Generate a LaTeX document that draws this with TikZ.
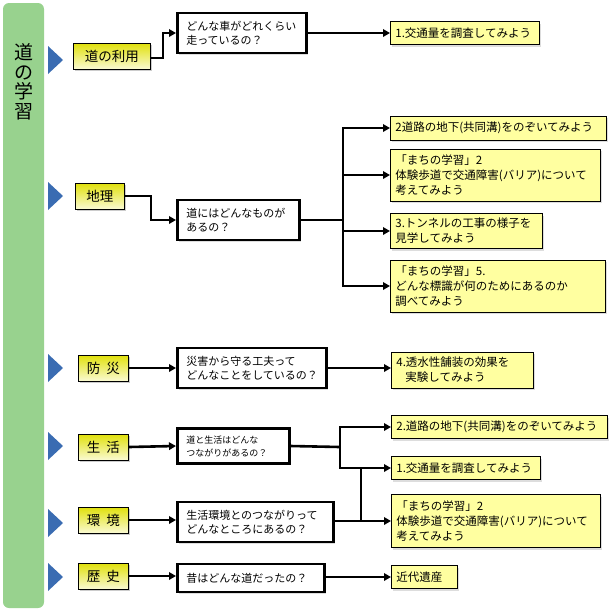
\documentclass[tikz,border=0pt]{standalone}
\usepackage{fontspec}
\setmainfont{Noto Sans CJK JP}
\usetikzlibrary{arrows.meta,shadows,calc}
\definecolor{bargreen}{RGB}{152,210,142}
\definecolor{triblue}{RGB}{58,108,178}
\definecolor{catyellow}{RGB}{224,224,10}
\definecolor{catpale}{RGB}{250,250,210}
\definecolor{resyellow}{RGB}{255,255,160}
\definecolor{shadegray}{RGB}{170,170,170}

\begin{document}
\begin{tikzpicture}[x=1pt, y=-1pt,
  cat/.style={draw, line width=0.9pt, top color=catyellow, bottom color=catpale,
              anchor=west, inner sep=0pt, minimum height=26pt,
              font=\fontsize{13.5}{14}\selectfont,
              drop shadow={shadow xshift=2pt, shadow yshift=-2pt, fill=shadegray, opacity=.6}},
  quest/.style={draw, line width=2.5pt, fill=white, anchor=west, align=left,
                inner xsep=9pt, inner ysep=2pt,
                font=\fontsize{11}{14}\selectfont,
                drop shadow={shadow xshift=1.5pt, shadow yshift=-1.5pt, fill=shadegray, opacity=.4}},
  result/.style={draw, line width=0.8pt, fill=resyellow, anchor=west, align=left,
                 inner xsep=5pt, inner ysep=2pt,
                 font=\fontsize{11.5}{15}\selectfont,
                 drop shadow={shadow xshift=2pt, shadow yshift=-2pt, fill=shadegray, opacity=.4}},
  conn/.style={line width=2.6pt, -{Triangle[length=7pt,width=7.5pt]}},
  bus/.style={line width=2.6pt}]

  \useasboundingbox (0,0) rectangle (615,614);

  % side bar with title
  \fill[bargreen, rounded corners=6pt] (3,3) rectangle (44,608);
  \node[font=\fontsize{19}{19.5}\selectfont, align=center, inner sep=0pt]
    (title) at (24,82) {道\\の\\学\\習};

  % pointers
  \foreach \y in {60,196,368,446,523,577}
    \fill[triblue] (48,\y-14) -- (63,\y) -- (48,\y+14) -- cycle;

  % themes
  \node[cat, minimum width=77pt] (c1) at (73,56)  {道の利用};
  \node[cat, minimum width=49pt] (c2) at (75,196) {地理};
  \node[cat, minimum width=50pt] (c3) at (78,368) {防\hspace{0.45em}災};
  \node[cat, minimum width=50pt] (c4) at (78,447) {生\hspace{0.45em}活};
  \node[cat, minimum width=50pt] (c5) at (78,520) {環\hspace{0.45em}境};
  \node[cat, minimum width=50pt] (c6) at (78,576) {歴\hspace{0.45em}史};

  % questions
  \node[quest, text width=111pt, minimum height=40pt] (q1) at (176,33)
    {どんな車がどれくらい\\走っているの？};
  \node[quest, text width=104pt, minimum height=40pt] (q2) at (176,220)
    {道にはどんなものが\\あるの？};
  \node[quest, text width=131pt, minimum height=40pt] (q3) at (176,368)
    {災害から守る工夫って\\どんなことをしているの？};
  \node[quest, text width=94pt, minimum height=35pt,
        font=\fontsize{9}{13}\selectfont] (q4) at (176,446)
    {道と生活はどんな\\つながりがあるの？};
  \node[quest, text width=138pt, minimum height=40pt] (q5) at (176,522)
    {生活環境とのつながりって\\どんなところにあるの？};
  \node[quest, text width=129pt, minimum height=28pt] (q6) at (176,578)
    {昔はどんな道だったの？};

  % activities
  \node[result, text width=139pt, minimum height=23pt] (r1) at (390,33)
    {1.交通量を調査してみよう};
  \node[result, text width=206pt, minimum height=24pt] (r2) at (390,128)
    {2道路の地下(共同溝)をのぞいてみよう};
  \node[result, text width=200pt, minimum height=52pt] (r3) at (390,175)
    {「まちの学習」2\\体験歩道で交通障害(バリア)について\\考えてみよう};
  \node[result, text width=142pt, minimum height=35pt] (r4) at (390,231)
    {3.トンネルの工事の様子を\\見学してみよう};
  \node[result, text width=205pt, minimum height=52pt] (r5) at (390,286)
    {「まちの学習」5.\\どんな標識が何のためにあるのか\\調べてみよう};
  \node[result, text width=132pt, minimum height=36pt] (r6) at (391,370)
    {4.透水性舗装の効果を\\\hspace{9pt}実験してみよう};
  \node[result, text width=206pt, minimum height=23pt] (r7) at (391,427)
    {2.道路の地下(共同溝)をのぞいてみよう};
  \node[result, text width=139pt, minimum height=23pt] (r8) at (391,468)
    {1.交通量を調査してみよう};
  \node[result, text width=199pt, minimum height=53pt] (r9) at (391,521)
    {「まちの学習」2\\体験歩道で交通障害(バリア)について\\考えてみよう};
  \node[result, text width=56pt, minimum height=23pt] (r10) at (391,577)
    {近代遺産};

  % connectors
  \draw[conn] ($(c1.east)+(0,2)$) -- ++(12,0) |- (q1.west);
  \draw[conn] (q1.east) -- (r1.west);

  \draw[conn] (c2.east) -- ++(26,0) |- (q2.west);
  \coordinate (j2) at (343,220);
  \draw[bus] (q2.east) -- (j2);
  \draw[bus] (343,128) -- (343,286);
  \foreach \r in {r2,r3,r4,r5}
    \draw[conn] (j2) |- (\r.west);

  \draw[conn] (c3.east) -- (q3.west);
  \draw[conn] (q3.east) -- (r6.west |- q3.east);

  \draw[conn] (c4.east) -- (q4.west);
  \coordinate (j4) at (340,447);
  \draw[bus] (q4.east) -- (j4);
  \draw[conn] (j4) |- (r7.west);
  \draw[conn] (j4) |- (r8.west);

  \draw[conn] (c5.east) -- (q5.west |- c5.east);
  \coordinate (j5) at (361,521);
  \draw[conn] (q5.east |- r9.west) -- (r9.west);
  \draw[bus] (j5) -- (j5 |- r8.west);

  \draw[conn] (c6.east) -- (q6.west |- c6.east);
  \draw[conn] (q6.east |- r10.west) -- (r10.west);
\end{tikzpicture}
\end{document}
